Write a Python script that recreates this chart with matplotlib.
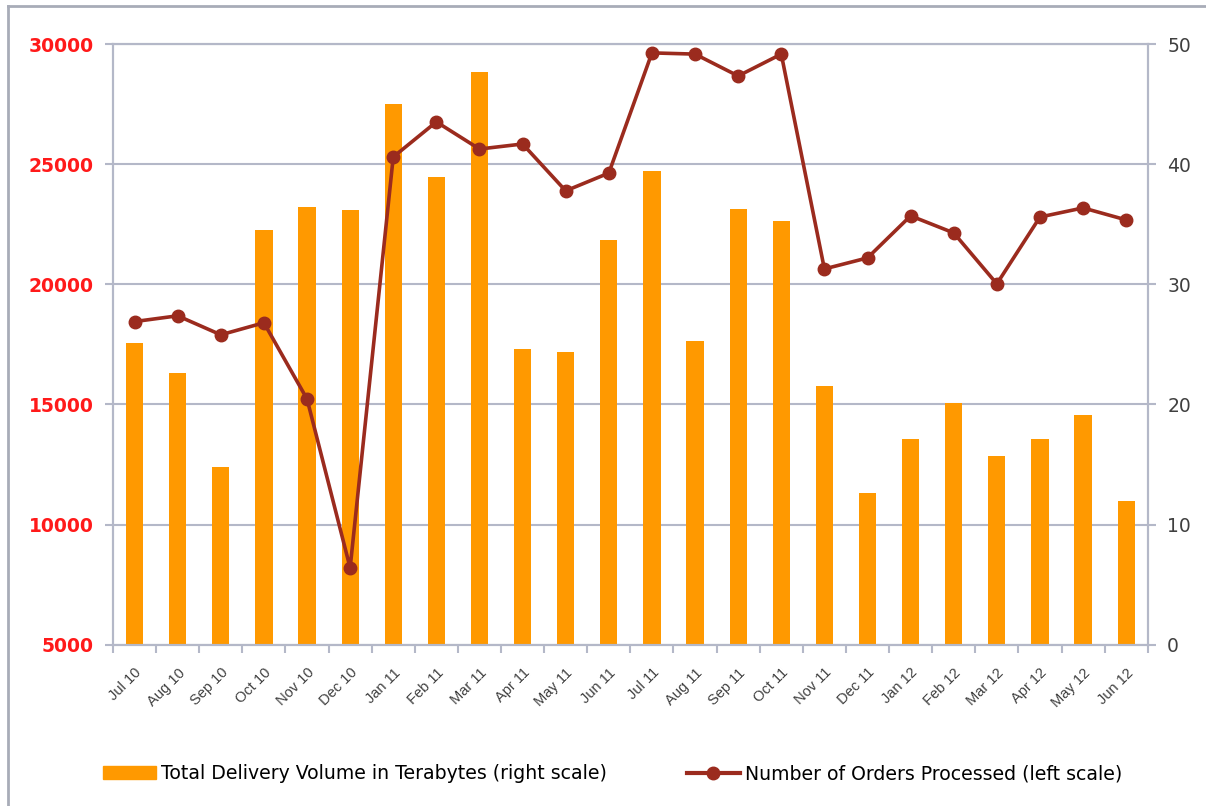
import numpy as np
import matplotlib
matplotlib.use("Agg")
import matplotlib.pyplot as plt
from matplotlib.lines import Line2D
from matplotlib.patches import Patch

months = ["Jul 10", "Aug 10", "Sep 10", "Oct 10", "Nov 10", "Dec 10",
          "Jan 11", "Feb 11", "Mar 11", "Apr 11", "May 11", "Jun 11",
          "Jul 11", "Aug 11", "Sep 11", "Oct 11", "Nov 11", "Dec 11",
          "Jan 12", "Feb 12", "Mar 12", "Apr 12", "May 12", "Jun 12"]

# delivery volume (right scale)
volume_tb = [25.1, 22.6, 14.8, 34.5, 36.4, 36.2, 45.0, 38.9, 47.7, 24.6, 24.4, 33.7,
             39.4, 25.3, 36.3, 35.3, 21.5, 12.6, 17.1, 20.1, 15.7, 17.1, 19.1, 12.0]

# orders processed (left scale)
orders = [18450, 18690, 17900, 18400, 15230, 8200, 25300, 26760, 25630, 25840, 23890, 24630,
          29630, 29580, 28670, 29580, 20640, 21100, 22850, 22140, 20020, 22800, 23180, 22680]

left_ticks = [5000, 10000, 15000, 20000, 25000, 30000]
right_ticks = [0, 10, 20, 30, 40, 50]

bar_color = "#ff9900"
line_color = "#9b2b1e"
grid_color = "#b4b8c8"
text_gray = "#404040"

fig = plt.figure(figsize=(12.06, 8.06), dpi=100)
ax = fig.add_axes([0.0937, 0.2, 0.858, 0.7454])
ax2 = ax.twinx()

x = np.arange(len(months))

# bars on the right scale, drawn underneath
ax2.bar(x, volume_tb, width=0.4, color=bar_color, zorder=2)
ax2.set_ylim(0, 50)
ax2.set_yticks(right_ticks)
ax2.yaxis.grid(True, color=grid_color, linewidth=1.5, zorder=0)
ax2.set_axisbelow(True)

# line on the left scale, on top
ax.set_zorder(ax2.get_zorder() + 1)
ax.patch.set_visible(False)
ax.plot(x, orders, color=line_color, linewidth=2.6, marker="o", markersize=9)
ax.set_ylim(5000, 30000)
ax.set_yticks(left_ticks)
ax.set_xlim(-0.5, len(months) - 0.5)

ax.set_xticks(x)
ax.set_xticklabels(months, rotation=45, ha="right", rotation_mode="anchor",
                   fontsize=10.5, color=text_gray, family="Liberation Sans")
ax.set_xticks(np.arange(-0.5, len(months)), minor=True)
ax.tick_params(axis="x", which="major", length=0, pad=15)
ax.tick_params(axis="x", which="minor", length=6, width=1.5, color=grid_color)
ax.tick_params(axis="y", length=6, width=1.5, color=grid_color, labelcolor="#ff1a1a",
               labelsize=13.5, pad=8)
for lab in ax.get_yticklabels():
    lab.set_fontweight("bold")
ax2.tick_params(axis="y", length=6, width=1.5, color=grid_color, labelcolor=text_gray,
                labelsize=13.5, pad=8)

for a in (ax, ax2):
    for s in a.spines.values():
        s.set_color(grid_color)
        s.set_linewidth(1.5)

# frame of the original screenshot
fig.add_artist(Line2D([0.0066, 0.0066], [0, 0.993], transform=fig.transFigure,
                      color="#a8acb8", linewidth=2))
fig.add_artist(Line2D([0.0066, 1], [0.993, 0.993], transform=fig.transFigure,
                      color="#a8acb8", linewidth=2))

handles = [Patch(color=bar_color),
           Line2D([], [], color=line_color, linewidth=3, marker="o", markersize=9)]
labels = ["Total Delivery Volume in Terabytes (right scale)",
          "Number of Orders Processed (left scale)"]
fig.legend(handles, labels, loc="center", bbox_to_anchor=(0.508, 0.04), ncol=2,
           frameon=False, handlelength=2.8, handletextpad=0.3, columnspacing=4.2,
           prop={"family": "DejaVu Sans", "size": 13.6})

fig.savefig("out.png", dpi=100)
